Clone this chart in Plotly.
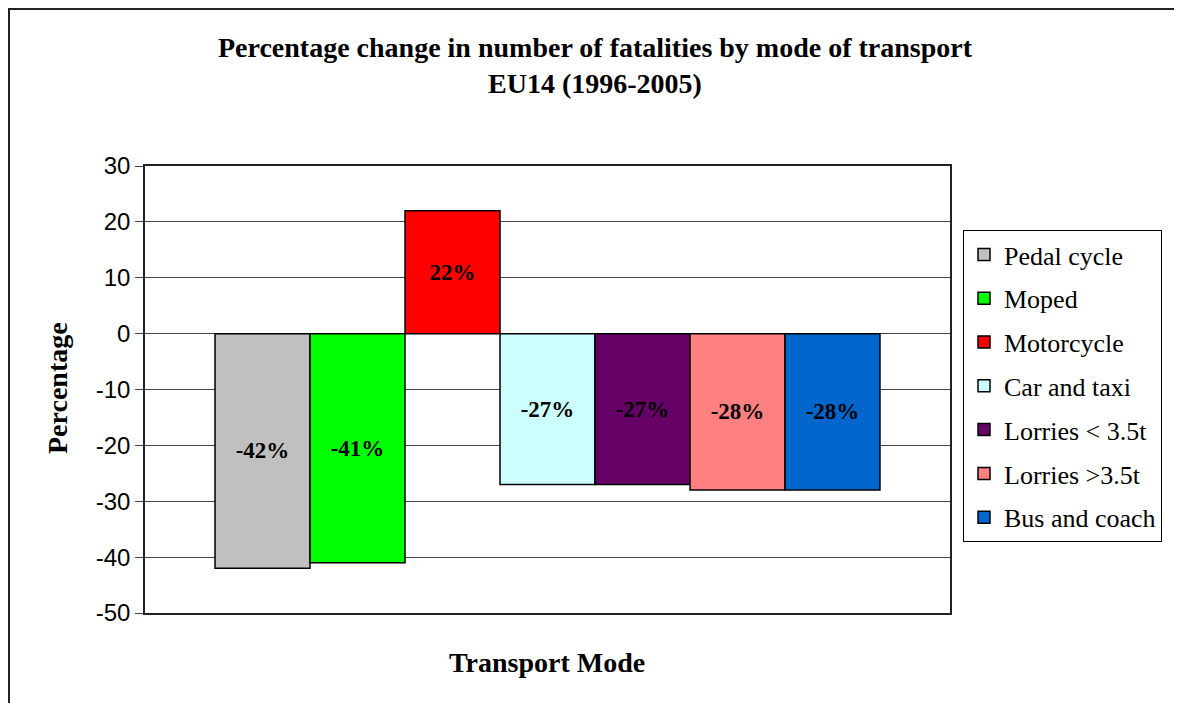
import plotly.graph_objects as go

modes = ["Pedal cycle", "Moped", "Motorcycle", "Car and taxi",
         "Lorries < 3.5t", "Lorries >3.5t", "Bus and coach"]
changes = [-42, -41, 22, -27, -27, -28, -28]
colors = ["#C0C0C0", "#00FF00", "#FF0000", "#CCFFFF", "#660066", "#FF8080", "#0066CC"]
y_ticks = [30, 20, 10, 0, -10, -20, -30, -40, -50]

OFF = 8  # page body margin
W, H = 1182 - OFF, 703 - OFF
# plot area in screen pixels: x 145..950, y 166..613
L, T = 145 - OFF, 166 - OFF
R, B = W - (950 - OFF), H - (613 - OFF)
pw, ph = W - L - R, H - T - B

SERIF = "Liberation Serif, Times New Roman, serif"
SANS = "Liberation Sans, Arial, sans-serif"

fig = go.Figure()
for m, v, c in zip(modes, changes, colors):
    fig.add_trace(go.Bar(
        x=[0], y=[v], name=m, legendgroup=m,
        marker=dict(color=c, line=dict(color="black", width=1.5)),
        text=[f"{v}%"], textposition="inside", insidetextanchor="middle",
        textangle=0, constraintext="none",
        textfont=dict(family=SERIF, size=23, color="black", weight="bold"),
    ))

def sx(p):  # screen x -> paper
    return (p - OFF - L) / pw

def sy(p):  # screen y -> paper
    return (H - B - (p - OFF)) / ph

fig.update_layout(
    width=W, height=H,
    margin=dict(l=L, r=R, t=T, b=B),
    paper_bgcolor="white", plot_bgcolor="white",
    barmode="group", bargap=0.174, bargroupgap=0,
    showlegend=True,
    title=dict(
        text="Percentage change in number of fatalities by mode of transport<br>EU14 (1996-2005)",
        x=(595 - OFF) / W, xanchor="center", y=1 - (56.5 - OFF) / H, yanchor="middle",
        font=dict(family=SERIF, size=28, color="black", weight="bold"),
    ),
    legend=dict(
        x=sx(963), xanchor="left", y=sy(230), yanchor="top",
        bordercolor="black", borderwidth=1, bgcolor="white",
        font=dict(family=SERIF, size=26, color="black"),
        traceorder="grouped", tracegroupgap=7,
    ),
    xaxis=dict(range=[-0.5, 0.5], showticklabels=False, ticks="",
               showgrid=False, zeroline=False, showline=True, mirror=True,
               linecolor="#222", linewidth=1.5, fixedrange=True),
    yaxis=dict(range=[-50, 30], tickvals=y_ticks, ticktext=[str(t) for t in y_ticks],
               ticks="outside", ticklen=8,
               tickcolor="#444", tickfont=dict(family=SANS, size=24, color="black"),
               showgrid=True, gridcolor="#404040", gridwidth=1, zeroline=False,
               showline=True, mirror=True, linecolor="#222", linewidth=1.5),
    annotations=[
        dict(text="Percentage", xref="paper", yref="paper", x=sx(57), y=sy(388),
             xanchor="center", yanchor="middle", textangle=-90, showarrow=False,
             font=dict(family=SERIF, size=28, color="black", weight="bold")),
        dict(text="Transport Mode", xref="paper", yref="paper", x=sx(547), y=sy(662),
             xanchor="center", yanchor="middle", showarrow=False,
             font=dict(family=SERIF, size=28, color="black", weight="bold")),
    ],
    shapes=[dict(type="rect", xref="paper", yref="paper",
                 x0=sx(9), x1=sx(1200), y0=sy(720), y1=sy(9),
                 line=dict(color="#222", width=2), layer="below")],
)

fig.write_html("out.html")
